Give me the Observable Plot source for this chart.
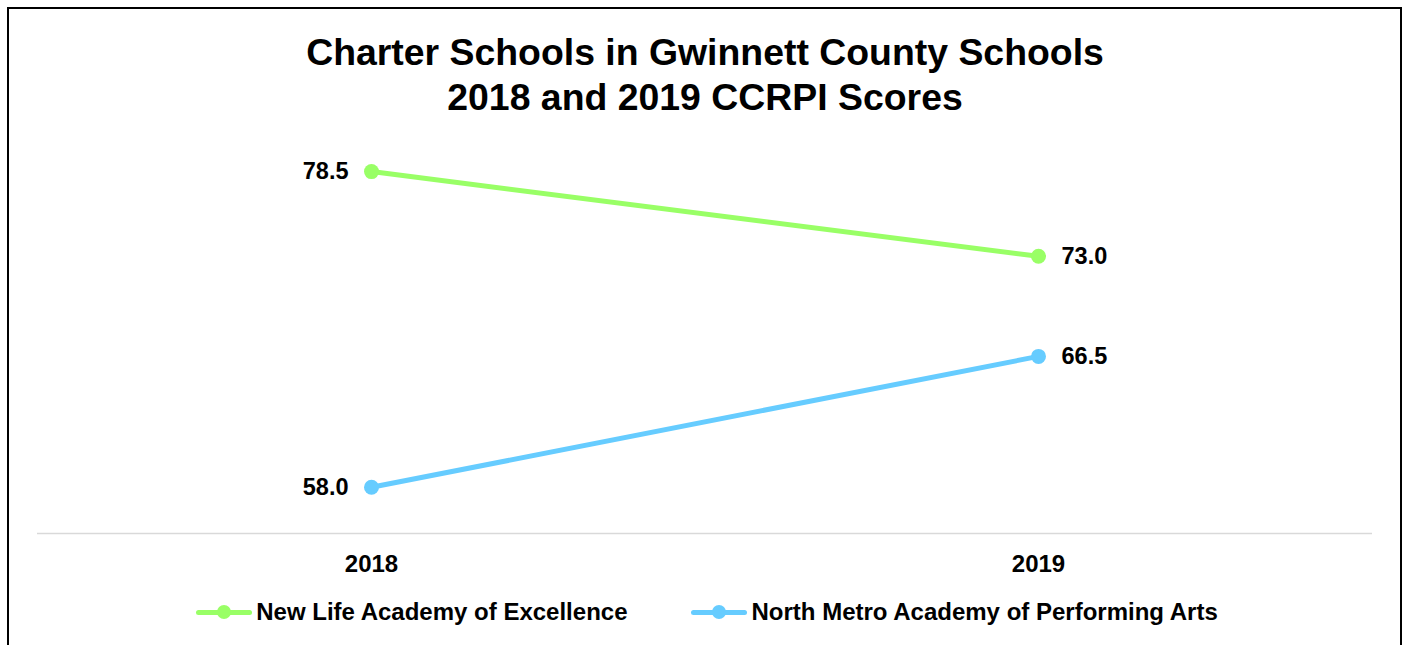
<!DOCTYPE html>
<html>
<head>
<meta charset="utf-8">
<script src="https://cdn.jsdelivr.net/npm/d3@7"></script>
<script src="https://cdn.jsdelivr.net/npm/@observablehq/plot@0.6"></script>
<style>
  html, body { margin: 0; padding: 0; background: #fff; width: 1406px; height: 645px; overflow: hidden; }
  body { font-family: "Liberation Sans", Arial, sans-serif; position: relative; }
  #frame { position: absolute; left: 7px; top: 7px; width: 1395px; height: 700px; border: 2px solid #000; box-sizing: border-box; }
  #title { position: absolute; left: 0; top: 30px; width: 1410px; text-align: center; font-weight: bold; font-size: 37.4px; line-height: 45px; color: #000; }
  #chart { position: absolute; left: 0; top: 130px; }
  #legend { position: absolute; left: 4px; top: 597px; width: 1406px; height: 30px; display: flex; justify-content: center; align-items: center; gap: 64px; font-weight: bold; font-size: 24px; color: #000; }
  .item { display: flex; align-items: center; gap: 4px; }
  .sw { position: relative; width: 56px; height: 14px; }
  .sw .ln { position: absolute; left: 0; right: 0; top: 4.5px; height: 5px; border-radius: 3px; }
  .sw .dt { position: absolute; left: 21px; top: 0; width: 14px; height: 14px; border-radius: 50%; }
</style>
</head>
<body>
<div id="frame"></div>
<div id="title">Charter Schools in Gwinnett County Schools<br>2018 and 2019 CCRPI Scores</div>
<div id="chart"></div>
<div id="legend"></div>
<script>
const years = ["2018", "2019"];
const schools = ["New Life Academy of Excellence", "North Metro Academy of Performing Arts"];
const newLifeScores = [78.5, 73.0];
const northMetroScores = [58.0, 66.5];
const schoolColors = ["#99ff66", "#66ccff"];

const series = [newLifeScores, northMetroScores];
const data = [];
schools.forEach((s, i) => years.forEach((y, j) => data.push({school: s, year: y, score: series[i][j]})));

const font = "Liberation Sans, Arial, sans-serif";

const chart = Plot.plot({
  width: 1406,
  height: 440,
  marginLeft: 37,
  marginRight: 34,
  marginTop: 18,
  marginBottom: 37,
  style: {fontFamily: font, background: "transparent", overflow: "visible"},
  x: {type: "point", domain: years, padding: 0.5, label: null},
  y: {domain: [55, 80], axis: null},
  color: {domain: schools, range: schoolColors},
  marks: [
    Plot.ruleY([55], {stroke: "#d9d9d9", strokeWidth: 1.5}),
    Plot.axisX({tickSize: 0, tickPadding: 21, fontSize: 24, fontWeight: "bold", fill: "#000", label: null}),
    Plot.line(data, {x: "year", y: "score", z: "school", stroke: "school", strokeWidth: 5}),
    Plot.dot(data, {x: "year", y: "score", fill: "school", r: 7.5}),
    Plot.text(data.filter(d => d.year === years[0]), {x: "year", y: "score", text: d => d.score.toFixed(1), textAnchor: "end", dx: -23, fontSize: 23.5, fontWeight: "bold", fill: "#000"}),
    Plot.text(data.filter(d => d.year === years[1]), {x: "year", y: "score", text: d => d.score.toFixed(1), textAnchor: "start", dx: 23, fontSize: 23.5, fontWeight: "bold", fill: "#000"})
  ]
});
document.getElementById("chart").appendChild(chart);

const legend = document.getElementById("legend");
schools.forEach((s, i) => {
  const item = document.createElement("div");
  item.className = "item";
  item.innerHTML = `<div class="sw"><div class="ln" style="background:${schoolColors[i]}"></div><div class="dt" style="background:${schoolColors[i]}"></div></div><span>${s}</span>`;
  legend.appendChild(item);
});
</script>
</body>
</html>
